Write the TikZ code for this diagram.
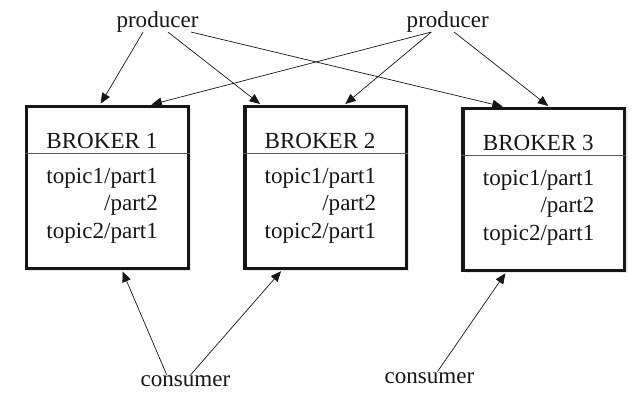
\documentclass[tikz,border=0pt]{standalone}
\usepackage{fontspec}
\setmainfont{Liberation Serif}
\usetikzlibrary{positioning,arrows.meta,shadows}
\definecolor{ink}{HTML}{161616}
\definecolor{rule}{HTML}{5A5A5A}
\tikzset{
  brk/.style={draw=ink, line width=0.85mm, fill=white, inner sep=0pt,
    minimum width=40.4mm, minimum height=40.4mm,
    drop shadow={shadow xshift=0.7mm, shadow yshift=-0.7mm, opacity=0.18}},
  hdr/.style={anchor=base west, inner sep=0pt, text=ink},
  lst/.style={anchor=base west, inner sep=0pt, align=right, text=ink},  % base = last line
  sep/.style={draw=rule, line width=0.5pt},
  lab/.style={inner sep=1pt, text height=1.6ex, text depth=0.4ex, text=ink},
  arr/.style={-{Triangle[length=2.6mm,width=2.2mm]}, line width=0.5pt, color=ink,
    shorten >=0.4mm},
}

\begin{document}
\begin{tikzpicture}[font=\fontsize{16.4pt}{19.6pt}\selectfont]
    \useasboundingbox (-26.875mm,-53.125mm) rectangle (133.125mm,46.875mm);
    % brokers
    \node[brk] (bk1) {};
    \node[brk, right=13.3mm of bk1] (bk2) {};
    \node[brk, right=13.3mm of bk2, yshift=-0.5mm] (bk3) {};
    \foreach \i in {1,2,3} {
      \node[hdr] (hd\i) at ([xshift=5.3mm, yshift=-10.8mm]bk\i.north west) {BROKER \i};
      \draw[sep] ([yshift=-12.1mm]bk\i.north west) -- ([yshift=-12.1mm]bk\i.north east);
      \node[lst] (ls\i) at ([xshift=5.3mm, yshift=-33.3mm]bk\i.north west)
        {topic1/part1\\/part2\\topic2/part1};
    }
    \node[lab, above=19.3mm of bk1.north, anchor=base, xshift=12.5mm] (prodL) {producer};
    \node[lab, above=19.3mm of bk2.north, anchor=base, xshift=30.5mm] (prodR) {producer};
    \node[lab, below=29.2mm of bk1.south, anchor=base, xshift=19.5mm] (consL) {consumer};
    \node[lab, below=27.9mm of bk3.south, anchor=base, xshift=-28.6mm] (consR) {consumer};
    \draw[arr] ([xshift=-3.6mm]prodL.south) -- ([xshift=-1.9mm]bk1.north);
    \draw[arr] ([xshift=2.6mm]prodL.south) -- ([xshift=-16.1mm]bk2.north);
    \draw[arr] ([xshift=8.4mm]prodL.south) -- ([xshift=-9.9mm]bk3.north);
    \draw[arr] ([xshift=-4.1mm]prodR.south) -- ([xshift=10.6mm]bk1.north);
    \draw[arr] ([xshift=-4.1mm]prodR.south) -- ([xshift=4.6mm]bk2.north);
    \draw[arr] ([xshift=1.6mm]prodR.south) -- ([xshift=1.4mm]bk3.north);
    \draw[arr] ([xshift=-4.7mm]consL.north) -- ([xshift=3.6mm]bk1.south);
    \draw[arr] ([xshift=1.3mm]consL.north) -- ([xshift=-10.9mm]bk2.south);
    \draw[arr] ([xshift=2mm]consR.north) -- ([xshift=-9.4mm]bk3.south);
\end{tikzpicture}
\end{document}
